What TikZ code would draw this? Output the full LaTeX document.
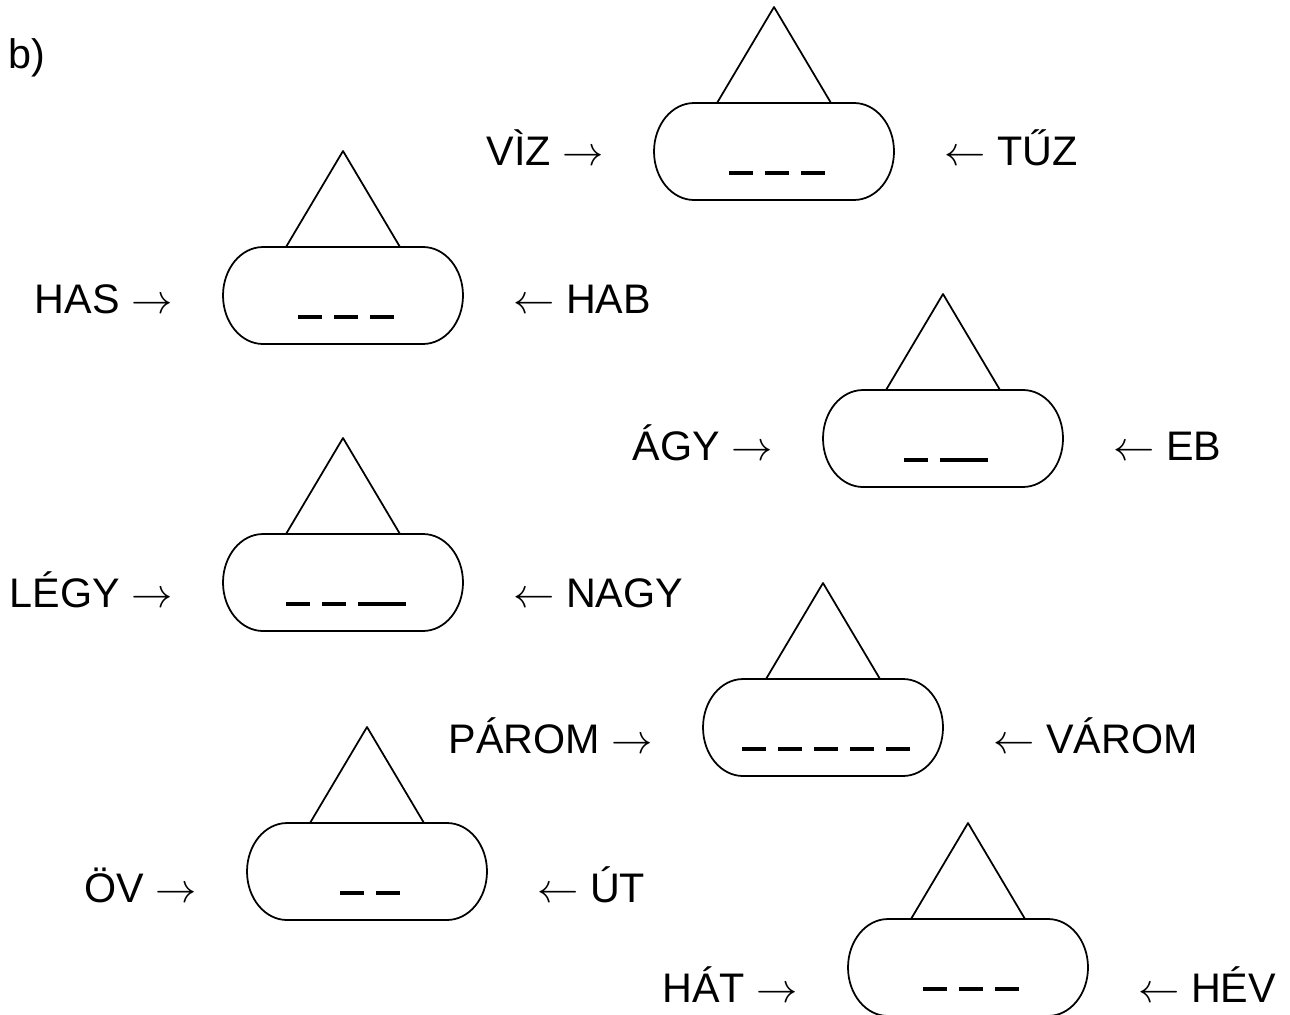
\RequirePackage{fix-cm}
\documentclass[tikz,border=0pt]{standalone}
\usepackage{fontspec}
\setmainfont{Liberation Sans}
\usepackage{tikz}
\usetikzlibrary{positioning}
\usetikzlibrary{calc}
\tikzset{
  doboz/.style = {draw=black, line width=1pt, line join=round},% haz alakja
  felirat/.style = {inner sep=0pt, font=\fontsize{23.5pt}{28pt}\selectfont},% szavak
  vonalak/.style = {inner sep=0pt, anchor=base}% ures helyek
}
\newcommand\rov{\hspace{0.12cm}\rule{0.48cm}{0.08cm}\hspace{0.12cm}}
\newcommand\hos{\hspace{0.12cm}\rule{0.96cm}{0.08cm}\hspace{0.12cm}}

\begin{document}
\begin{tikzpicture}[x=0.02cm,y=-0.02cm]
\useasboundingbox (0,0) rectangle (1290,1014);
\node [felirat, anchor=base west] (cim) at (8,68) {b)};

\foreach \nev/\cx/\ty/\by/\bal/\jobb/\ures in {
  viz/774/103/165/VÌZ/TŰZ/{\rov\rov\rov},
  has/343/247/313/HAS/HAB/{\rov\rov\rov},
  agy/943/390/460/ÁGY/EB/{\rov\hos},
  legy/343/534/607/LÉGY/NAGY/{\rov\rov\hos},
  parom/823/679/753/PÁROM/VÁROM/{\rov\rov\rov\rov\rov},
  ov/367/823/902/ÖV/ÚT/{\rov\rov},
  hat/968/919/1002/HÁT/HÉV/{\rov\rov\rov}}
{
  \coordinate (\nev) at (\cx,{\ty+48.5});
  % teteje
  \draw [doboz] ({\cx-57},\ty) -- (\cx,{\ty-96}) -- ({\cx+57},\ty);
  % doboz
  \draw [doboz] ({\cx-80},\ty) -- ({\cx+80},\ty)
    arc[start angle=90, end angle=-90, x radius=0.8cm, y radius=0.97cm]
    -- ({\cx-80},{\ty+97})
    arc[start angle=270, end angle=90, x radius=0.8cm, y radius=0.97cm] -- cycle;
  \node [vonalak] (\nev-ures) at (\cx,{\ty+72}) {\ures};
  \node [felirat, anchor=base east] (\nev-bal) at ({\cx-170},\by) {\bal{} $\rightarrow$};
  \node [felirat, anchor=base west] (\nev-jobb) at ({\cx+170},\by) {$\leftarrow$ \jobb};
}
\end{tikzpicture}
\end{document}
